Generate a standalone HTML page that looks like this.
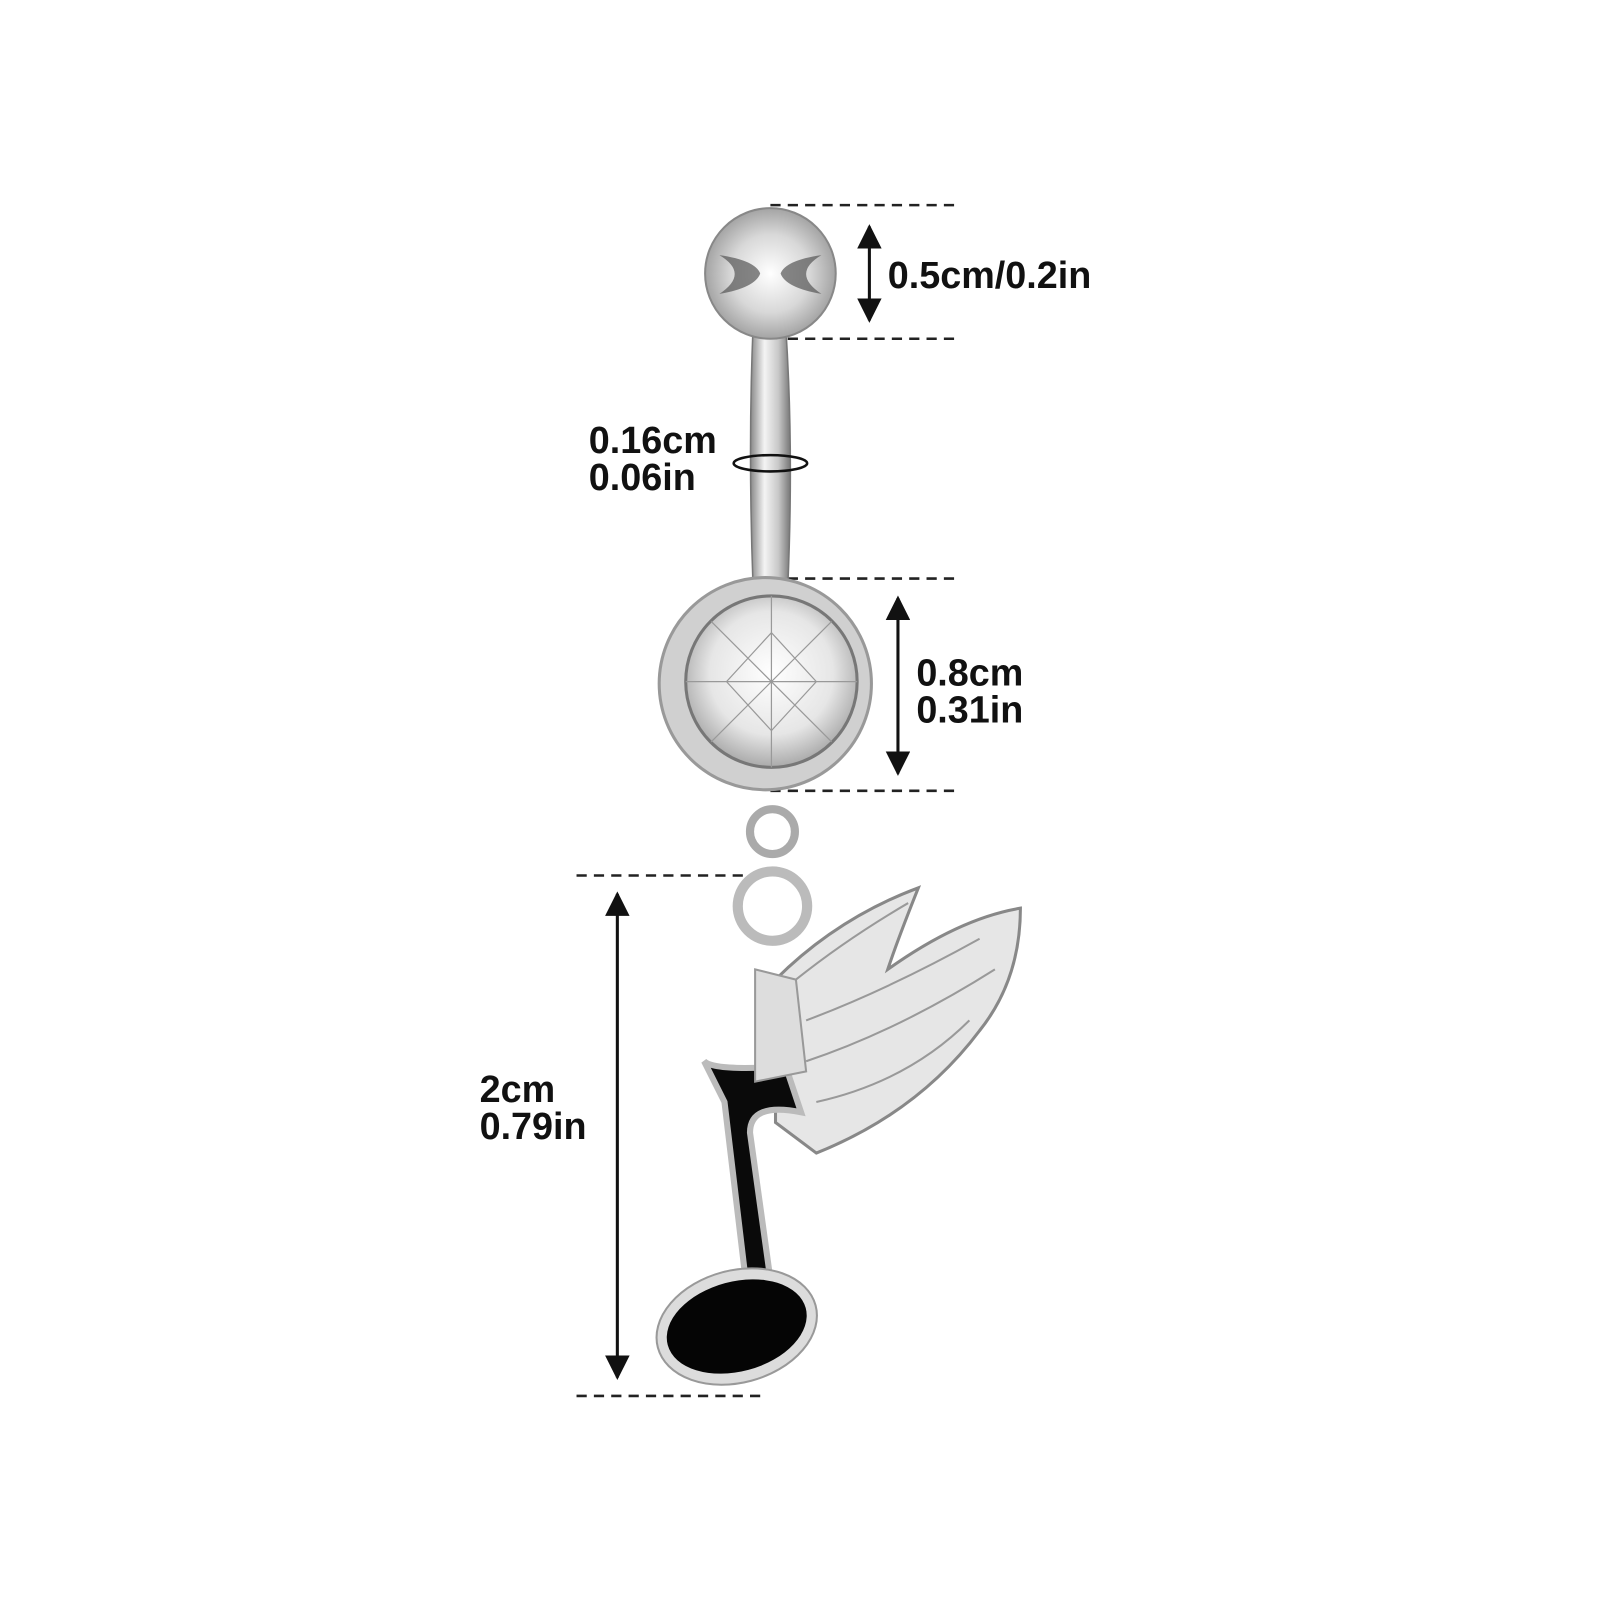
<!DOCTYPE html>
<html><head><meta charset="utf-8"><style>
html,body{margin:0;padding:0;background:#fff;}
svg{display:block}
text{font-family:"Liberation Sans","DejaVu Sans",sans-serif;font-weight:bold;fill:#111;font-size:37px}
</style></head><body>
<svg width="1600" height="1600" viewBox="0 0 1568 1568" xmlns="http://www.w3.org/2000/svg">
<defs>
<radialGradient id="ball" cx="0.5" cy="0.5" r="0.6"><stop offset="0" stop-color="#fff"/><stop offset="0.5" stop-color="#d8d8d8"/><stop offset="1" stop-color="#8a8a8a"/></radialGradient>
<linearGradient id="bar" x1="0" x2="1"><stop offset="0" stop-color="#888"/><stop offset="0.35" stop-color="#f4f4f4"/><stop offset="0.7" stop-color="#c8c8c8"/><stop offset="1" stop-color="#777"/></linearGradient>
<radialGradient id="gem" cx="0.5" cy="0.45" r="0.6"><stop offset="0" stop-color="#fff"/><stop offset="0.6" stop-color="#e6e6e6"/><stop offset="1" stop-color="#9a9a9a"/></radialGradient>
<marker id="ah" viewBox="0 0 10 10" refX="9" refY="5" markerWidth="8" markerHeight="8" orient="auto-start-reverse"><path d="M0,0 L10,5 L0,10 z" fill="#111"/></marker>
</defs>
<g stroke="#222" stroke-width="2.5" stroke-dasharray="10,7">
<line x1="755" y1="201" x2="942" y2="201"/>
<line x1="755" y1="332" x2="942" y2="332"/>
<line x1="755" y1="567" x2="942" y2="567"/>
<line x1="755" y1="775" x2="942" y2="775"/>
<line x1="565" y1="858" x2="752" y2="858"/>
<line x1="565" y1="1368" x2="752" y2="1368"/>
</g>
<g stroke="#111" stroke-width="3" fill="none">
<line x1="852" y1="222" x2="852" y2="314" marker-start="url(#ah)" marker-end="url(#ah)"/>
<line x1="880" y1="586" x2="880" y2="758" marker-start="url(#ah)" marker-end="url(#ah)"/>
<line x1="605" y1="876" x2="605" y2="1350" marker-start="url(#ah)" marker-end="url(#ah)"/>
</g>
<path d="M738 320 Q733 440 738 575 L772 575 Q778 440 770 320 Z" fill="url(#bar)" stroke="#777" stroke-width="1.5"/>
<ellipse cx="755" cy="454" rx="36" ry="8" fill="none" stroke="#111" stroke-width="2.5"/>
<circle cx="755" cy="268" r="64" fill="url(#ball)" stroke="#888" stroke-width="2"/>
<path d="M705 250 Q740 255 745 268 Q740 282 705 288 Q735 268 705 250Z M805 250 Q770 255 765 268 Q770 282 805 288 Q775 268 805 250Z" fill="#555" opacity="0.7"/>
<circle cx="750" cy="670" r="104" fill="#d0d0d0" stroke="#999" stroke-width="3"/>
<circle cx="756" cy="668" r="84" fill="url(#gem)" stroke="#777" stroke-width="3"/>
<g stroke="#999" stroke-width="1.2" fill="none">
<path d="M756 584 L756 752 M672 668 L840 668 M697 609 L815 727 M815 609 L697 727 M756 620 L800 668 L756 716 L712 668 Z"/>
</g>
<circle cx="757" cy="815" r="22" fill="none" stroke="#aaa" stroke-width="8"/>
<circle cx="757" cy="888" r="34" fill="none" stroke="#bbb" stroke-width="10"/>
<path d="M760 960 Q820 900 900 870 Q880 920 870 950 Q940 900 1000 890 Q1000 960 960 1010 Q900 1090 800 1130 L760 1100 Z" fill="#e6e6e6" stroke="#888" stroke-width="3"/>
<g stroke="#999" stroke-width="2" fill="none">
<path d="M790 1000 Q870 970 960 920 M790 1040 Q880 1010 975 950 M800 1080 Q890 1060 950 1000 M780 960 Q830 920 890 885"/>
</g>
<path d="M690 1040 Q700 1050 770 1045 L785 1090 Q735 1080 735 1110 L760 1290 L735 1290 L710 1080 Z" fill="#0a0a0a" stroke="#bbb" stroke-width="6"/>
<path d="M740 950 L780 960 L790 1050 L740 1060 Z" fill="#ddd" stroke="#999" stroke-width="2"/>
<ellipse cx="722" cy="1300" rx="80" ry="55" transform="rotate(-15 722 1300)" fill="#dcdcdc" stroke="#999" stroke-width="2"/>
<ellipse cx="722" cy="1300" rx="70" ry="44" transform="rotate(-15 722 1300)" fill="#050505"/>
<text x="870" y="282">0.5cm/0.2in</text>
<text x="577" y="444">0.16cm</text>
<text x="577" y="480">0.06in</text>
<text x="898" y="672">0.8cm</text>
<text x="898" y="708">0.31in</text>
<text x="470" y="1080">2cm</text>
<text x="470" y="1116">0.79in</text>
</svg>
</body></html>
